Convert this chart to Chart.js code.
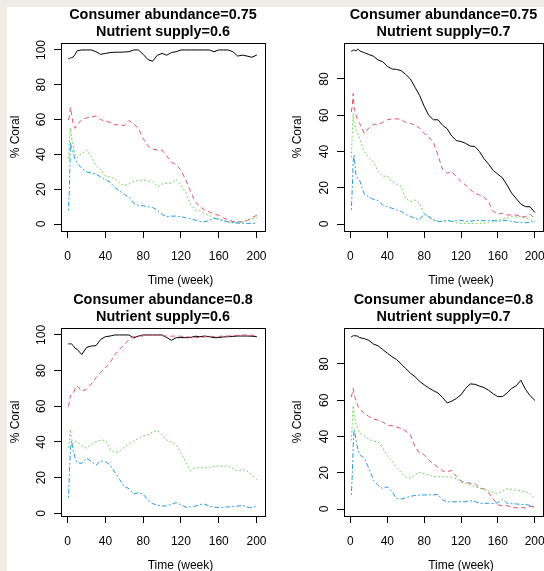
<!DOCTYPE html>
<html>
<head>
<meta charset="utf-8">
<script src="https://cdn.jsdelivr.net/npm/chart.js"></script>
<style>
  html, body { margin: 0; padding: 0; background: #efede6; }
  #page { position: relative; width: 544px; height: 571px; overflow: hidden; }
  #sheet { position: absolute; left: 7px; top: 7px; right: 0; bottom: 0; background: #fff; }
  .panel { position: absolute; width: 272px; height: 300px; }
</style>
</head>
<body>
<div id="page">
  <div id="sheet"></div>
  <div class="panel" style="left:0;top:0"><canvas id="c1" width="272" height="300"></canvas></div>
  <div class="panel" style="left:272px;top:0"><canvas id="c2" width="272" height="300"></canvas></div>
  <div class="panel" style="left:0;top:285px"><canvas id="c3" width="272" height="300"></canvas></div>
  <div class="panel" style="left:272px;top:285px"><canvas id="c4" width="272" height="300"></canvas></div>
</div>
<script>
// sampling weeks shared by every series
const weeks = [1, 2, 3, 4, 6, 8, 10,
  15, 20, 25, 30, 35, 40, 45, 50, 55, 60,
  65, 70, 75, 80, 85, 90, 95, 100, 105, 110,
  115, 120, 125, 130, 135, 140, 145, 150, 155, 160,
  165, 170, 175, 180, 185, 190, 195, 200];

const xTicks = [0, 40, 80, 120, 160, 200];
const yTicksTo100 = [0, 20, 40, 60, 80, 100];
const yTicksTo80 = [0, 20, 40, 60, 80];

const titles = [
  ['Consumer abundance=0.75', 'Nutrient supply=0.6'],
  ['Consumer abundance=0.75', 'Nutrient supply=0.7'],
  ['Consumer abundance=0.8', 'Nutrient supply=0.6'],
  ['Consumer abundance=0.8', 'Nutrient supply=0.7']
];

// consumer 0.75 / nutrient 0.6
const p1Black = [95, 95, 95.5, 95.5, 96, 97.5, 99.5,
  100, 100, 100, 99, 97.5, 98, 98.5, 98.7, 98.7, 98.8,
  99, 100, 100, 97.5, 94.5, 93.5, 97, 98, 97, 98.5,
  99, 100, 100, 100, 100, 100, 100, 100, 99, 100,
  100, 100, 99, 96.5, 97, 96.5, 95.8, 97];
const p1Red = [60, 62, 67, 64, 57, 55, 57,
  60, 61, 61.5, 62, 60, 59, 58.5, 57, 57, 56.5,
  59.5, 57.5, 55, 49, 45, 43, 42.5, 42.5, 39, 35.5,
  34, 31, 25.5, 19, 13, 10, 8, 7, 5.8, 5,
  3.5, 2.5, 1.5, 1.3, 1.2, 2, 3.5, 5];
const p1Green = [38, 48, 55, 50, 45, 40, 38,
  40.5, 42.5, 39, 33.5, 31.5, 27.5, 27, 26, 23.5, 22,
  23, 24.5, 25, 25.3, 24.8, 24, 21.5, 23, 23.5, 23.5,
  25.5, 22.5, 18, 11.5, 8, 7.5, 6, 5, 3.5, 3,
  2, 1, 0.8, 1, 1.3, 2, 3, 3.8];
const p1Blue = [8, 22, 47, 44, 41, 37, 35,
  32, 30, 29.3, 28.8, 27, 25.5, 24, 21, 19, 17,
  15.5, 12, 10.7, 10.5, 10, 9.5, 8, 5.5, 4.3, 4.5,
  4.6, 4.2, 3.6, 3, 2.3, 1.5, 1.3, 2, 3.2, 2.8,
  2, 1.3, 0.8, 0.5, 0.5, 0.4, 0.4, 0.4];

// consumer 0.75 / nutrient 0.7
const p2Black = [95.4, 95.5, 95.8, 96, 95.5, 96.5, 95.5,
  94.5, 93.5, 92.5, 90.5, 89.5, 87, 85.5, 85.3, 84.6, 82.5,
  80, 75.5, 71, 65, 60, 57.5, 57.5, 54.5, 52.5, 48.5,
  46, 45.5, 44.5, 43, 42.8, 40, 36, 33, 29.5, 27.5,
  25.5, 21.5, 17, 14, 11, 9.6, 9.5, 6.5];
const p2Red = [62, 65, 72, 64, 60, 57, 55.5,
  50, 53, 55, 55, 56, 57.5, 58, 58, 57.8, 56,
  55.5, 54.5, 53, 50, 48, 45, 38, 30, 28, 29,
  26, 23.5, 21.5, 19, 17, 16, 15, 12, 7, 5.5,
  5.9, 5, 5, 5, 4, 4, 5.5, 3];
const p2Green = [37, 50, 61, 56, 52, 50, 47,
  40, 36.5, 34.5, 29, 26.3, 26.5, 23.5, 22, 20.8, 14,
  12.4, 13.3, 11.5, 6, 4, 2.5, 1.5, 1.3, 2, 1.5,
  0.8, 0.4, 0.4, 0.4, 0.4, 0.4, 0.6, 1, 1.3, 2,
  2.8, 3.3, 4, 4, 4, 3.5, 2.5, 1.3];
const p2Blue = [8, 20, 35, 38, 27, 25, 24,
  16.5, 15, 13.5, 13, 10.5, 9.6, 8.7, 7.8, 7, 5.3,
  4.3, 3, 2.5, 5.5, 4, 2.2, 1.5, 1.5, 2, 1.5,
  2, 2, 1.5, 1.5, 2, 2, 1.8, 2, 2, 1.5,
  2, 2, 1.5, 1, 0.8, 0.7, 1, 1.5];

// consumer 0.8 / nutrient 0.6
const p3Black = [95, 95, 95, 95, 94, 92.5, 92,
  89, 93, 93.8, 94, 97.5, 99, 99.4, 100, 100, 100,
  100, 98.3, 99.4, 100, 100, 100, 100, 100, 98.5, 97,
  98.5, 98.5, 98.5, 98.5, 99.3, 99, 99.4, 99, 98.5, 98.5,
  98.9, 99, 99.2, 99.4, 99.4, 99.4, 99.3, 99];
const p3Red = [60, 63, 66, 66, 67, 70, 71.5,
  68.5, 69.5, 72.5, 76, 79, 81.5, 84.5, 89, 92, 94.5,
  97.5, 99, 99.4, 99.4, 99.7, 100, 100, 99.5, 99.4, 99.3,
  99.4, 99.3, 99, 98.8, 98.5, 98.5, 98.8, 99.4, 99, 99.2,
  99.4, 99.4, 99.7, 99.8, 100, 100, 99.8, 99.4];
const p3Green = [37, 42, 47, 42, 39, 40.5, 40,
  38, 36.5, 38.5, 40, 41, 41, 36, 34, 35, 37,
  39, 40.5, 42, 43.4, 44, 45.5, 46.5, 44, 41, 40,
  38.5, 34, 29, 24, 25.6, 25.6, 25.5, 25.8, 26.3, 26.5,
  26.5, 26.5, 25, 23.7, 24.7, 23.7, 21.5, 19];
const p3Blue = [9, 24, 36, 40.6, 35, 31, 28.4,
  28, 31, 29, 27, 29.3, 29, 27, 23, 19, 15,
  13.8, 10.8, 11.6, 10.7, 7.5, 5.5, 4.5, 4.1, 4.2, 5,
  6, 4.8, 3.5, 3.6, 4, 5, 5.2, 4, 3.4, 3.3,
  3.4, 3.6, 3.8, 4, 4.5, 3.5, 3.2, 4];

// consumer 0.8 / nutrient 0.7
const p4Black = [95, 95.3, 95.5, 95.6, 95.5, 95.3, 94.5,
  94, 93, 91, 90, 88, 86, 84, 82.5, 80, 77.5,
  75, 73, 70.5, 68.5, 66.8, 65.3, 64, 61.5, 58.5, 59.5,
  61, 63, 66.5, 69, 68.8, 67.8, 67, 65.5, 63.5, 62,
  62, 64, 66.5, 68, 71, 66, 62.5, 60];
const p4Red = [62, 64, 66.5, 63, 60, 57, 55,
  53, 51, 49.7, 49, 48, 46.3, 46, 45.2, 44.4, 43,
  41, 34.5, 31, 30, 27, 25, 23, 21, 20.6, 21.3,
  18, 15.5, 14.6, 14.2, 14, 11.8, 11, 9, 5.5, 2.3,
  1.8, 1.8, 1.2, 0.6, 1, 0.5, 1.5, 1];
const p4Green = [38, 47, 57, 52, 47, 44, 42,
  40.5, 38.5, 37.5, 37, 33.5, 29.5, 26.5, 22.8, 20.2, 17.7,
  16.9, 18.8, 20.2, 19.5, 18.8, 18, 17.8, 17.8, 17.8, 17.6,
  16.7, 15, 14.2, 13.2, 12.3, 11.5, 11, 10, 9.2, 8.6,
  9.8, 11.2, 10.8, 10.5, 10, 9.6, 8.5, 5.9];
const p4Blue = [8, 19, 35, 44, 38, 33, 30,
  28, 22.5, 16, 13, 11.3, 12.3, 9.6, 5.8, 5.5, 6.2,
  7, 7.5, 7.7, 7.8, 7.8, 7.8, 8, 5, 4, 4,
  4, 4, 4, 4.6, 4.2, 3.2, 3.1, 3.2, 3, 3.5,
  5.5, 3.2, 3, 2.8, 2.6, 2.5, 2, 1.2];

const FONT = '"Liberation Sans", Arial, sans-serif';
Chart.defaults.font.family = FONT;
Chart.defaults.color = '#000';

const lineStyles = [
  { color: '#000000', dash: [] },
  { color: '#DF536B', dash: [4, 4] },
  { color: '#61D04F', dash: [1, 3] },
  { color: '#2297E6', dash: [1, 3, 4, 3] }
];

const panels = [
  { id: 'c1', series: [p1Black, p1Red, p1Green, p1Blue], yMin: -4, yMax: 104, yTicks: yTicksTo100, left: true },
  { id: 'c2', series: [p2Black, p2Red, p2Green, p2Blue], yMin: -3.84, yMax: 99.84, yTicks: yTicksTo80, left: false },
  { id: 'c3', series: [p3Black, p3Red, p3Green, p3Blue], yMin: -1.5, yMax: 103.9, yTicks: yTicksTo100, left: true },
  { id: 'c4', series: [p4Black, p4Red, p4Green, p4Blue], yMin: -3.84, yMax: 99.84, yTicks: yTicksTo80, left: false }
];

// R style: box around plot, rotated y labels, x label slightly right of centre
const rPlot = {
  id: 'rPlot',
  afterDraw(chart) {
    const { ctx, chartArea: a, scales: { y } } = chart;
    ctx.save();
    ctx.strokeStyle = '#000';
    ctx.lineWidth = 1;
    ctx.strokeRect(Math.round(a.left) + 0.5, Math.round(a.top) + 0.5,
      Math.round(a.right - a.left), Math.round(a.bottom - a.top));
    ctx.fillStyle = '#000';
    ctx.font = '12px ' + FONT;
    ctx.textAlign = 'center';
    ctx.textBaseline = 'middle';
    y.ticks.forEach(t => {
      ctx.save();
      ctx.translate(a.left - 19.5, y.getPixelForValue(t.value));
      ctx.rotate(-Math.PI / 2);
      ctx.fillText(String(t.value), 0, 0);
      ctx.restore();
    });
    ctx.fillText('Time (week)', (a.left + a.right) / 2 + 17.5, a.bottom + 50);
    ctx.restore();
  }
};

panels.forEach((p, i) => {
  const datasets = p.series.map((values, k) => ({
    data: weeks.map((w, j) => ({ x: w, y: values[j] })),
    borderColor: lineStyles[k].color,
    borderDash: lineStyles[k].dash,
    borderWidth: 1,
    borderCapStyle: 'round',
    borderJoinStyle: 'round',
    pointRadius: 0,
    fill: false,
    tension: 0,
    order: 4 - k
  }));

  new Chart(document.getElementById(p.id), {
    type: 'line',
    data: { datasets },
    plugins: [rPlot],
    options: {
      responsive: false,
      animation: false,
      events: [],
      layout: { padding: p.left
        ? { left: 0, right: 7, top: 0, bottom: 8 }
        : { left: 10, right: 1, top: 0, bottom: 8 } },
      plugins: {
        legend: { display: false },
        tooltip: { enabled: false },
        title: {
          display: true,
          text: titles[i],
          fullSize: false,
          color: '#000',
          font: { size: 14.4, weight: 'bold', lineHeight: '17px' },
          padding: { top: 6.8, bottom: 2.2 }
        }
      },
      scales: {
        x: {
          type: 'linear',
          min: -7,
          max: 209,
          afterBuildTicks: s => { s.ticks = xTicks.map(v => ({ value: v })); },
          afterFit: s => { s.height = 61; s.paddingLeft = 0; s.paddingRight = 0; },
          grid: { drawOnChartArea: false, drawTicks: true, tickLength: 7, color: '#000' },
          border: { display: false },
          ticks: { font: { size: 12 }, color: '#000', padding: 11, maxRotation: 0, autoSkip: false }
        },
        y: {
          type: 'linear',
          min: p.yMin,
          max: p.yMax,
          afterBuildTicks: s => { s.ticks = p.yTicks.map(v => ({ value: v })); },
          afterFit: s => { s.width = p.left ? 61 : 62; s.paddingTop = 0; s.paddingBottom = 0; },
          grid: { drawOnChartArea: false, drawTicks: true, tickLength: 7, color: '#000' },
          border: { display: false },
          ticks: { display: false },
          title: { display: true, text: '% Coral', font: { size: 12 }, color: '#000', padding: { top: 8.6, bottom: 0 } }
        }
      }
    }
  });
});
</script>
</body>
</html>
